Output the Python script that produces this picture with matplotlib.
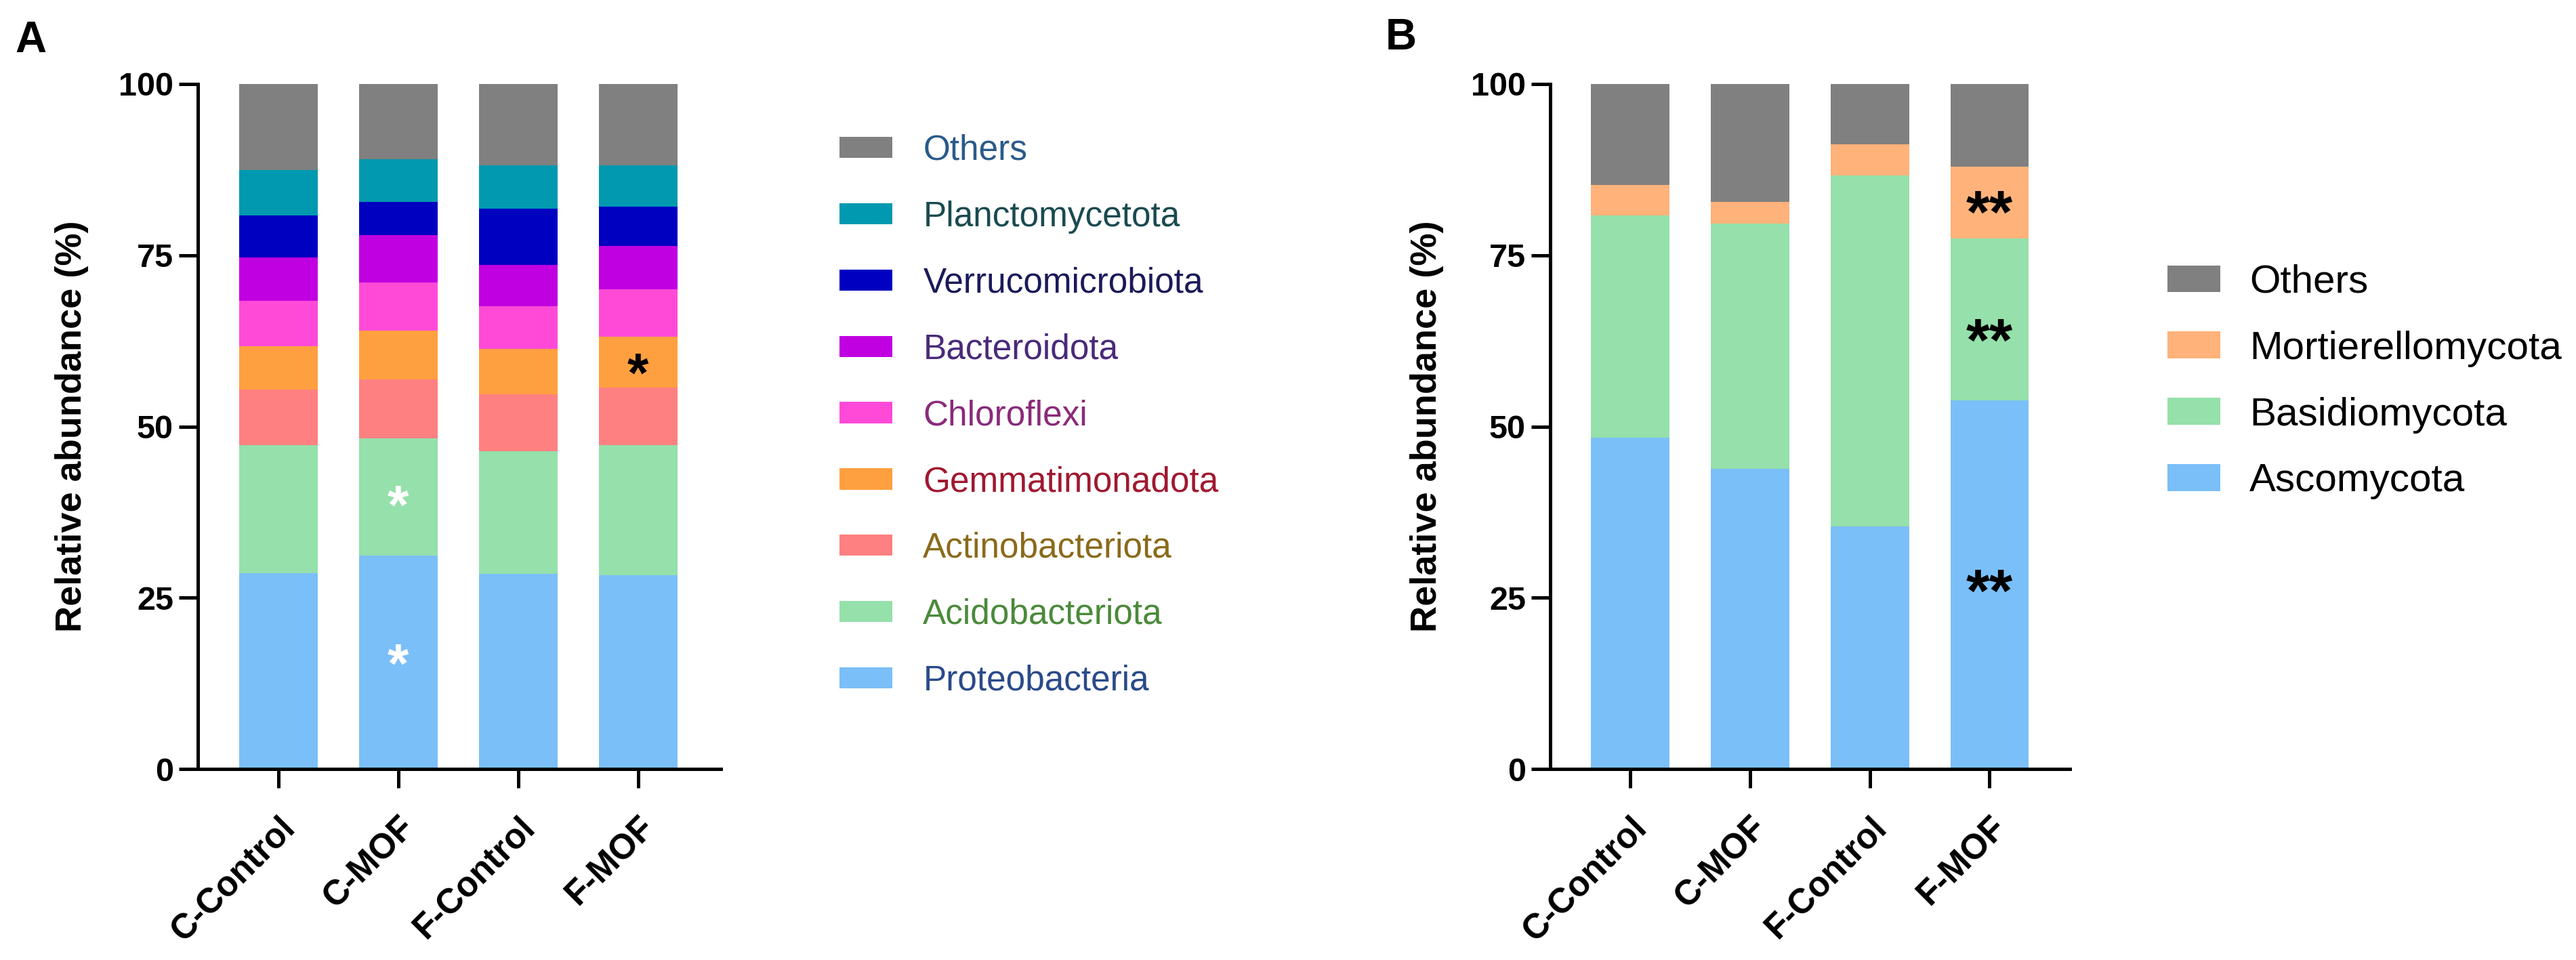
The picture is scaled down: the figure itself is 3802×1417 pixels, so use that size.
import matplotlib
matplotlib.use("Agg")
import matplotlib.pyplot as plt
from matplotlib.transforms import ScaledTranslation
import numpy as np

plt.rcParams["font.family"] = ["Liberation Sans", "DejaVu Sans"]

grupos = ["C-Control", "C-MOF", "F-Control", "F-MOF"]

# Panel A: bacterias (en %, de abajo hacia arriba)
bact_nombres = ["Proteobacteria", "Acidobacteriota", "Actinobacteriota", "Gemmatimonadota",
                "Chloroflexi", "Bacteroidota", "Verrucomicrobiota", "Planctomycetota", "Others"]
proteobacteria = [28.6, 31.2, 28.5, 28.3]
acidobacteriota = [18.7, 17.1, 17.9, 19.0]
actinobacteriota = [8.1, 8.6, 8.3, 8.4]
gemmatimonadota = [6.3, 7.1, 6.6, 7.4]
chloroflexi = [6.6, 7.0, 6.3, 6.9]
bacteroidota = [6.4, 6.9, 6.0, 6.4]
verrucomicrobiota = [6.1, 4.9, 8.2, 5.7]
planctomycetota = [6.6, 6.2, 6.3, 6.0]
otros_bact = [12.6, 11.0, 11.9, 11.9]

bact_colores = ["#7bbff8", "#95e0ab", "#ff8080", "#ffa040", "#ff4ad8",
                "#c000e0", "#0000c0", "#0099b0", "#808080"]
bact_texto = ["#2a4a8a", "#4a8a3a", "#8a6a1a", "#a01830", "#8a2a7a",
              "#4a2a7a", "#1a1a5a", "#1a4a50", "#2a5a8a"]

# Panel B: hongos
hong_nombres = ["Ascomycota", "Basidiomycota", "Mortierellomycota", "Others"]
ascomycota = [48.4, 43.8, 35.4, 53.8]
basidiomycota = [32.4, 35.8, 51.2, 23.6]
mortierellomycota = [4.5, 3.2, 4.6, 10.5]
otros_hong = [14.7, 17.2, 8.8, 12.1]

hong_colores = ["#7bbff8", "#95e0ab", "#ffb27a", "#808080"]

fig = plt.figure(figsize=(19.01, 7.085), dpi=200)
axA = fig.add_axes([0.0768, 0.199, 0.203, 0.7135])
axB = fig.add_axes([0.6018, 0.199, 0.2017, 0.7135])


def apilar(ax, series, colores, nombres):
    x = np.arange(len(grupos))
    base = np.zeros(len(grupos))
    for vals, c, n in zip(series, colores, nombres):
        ax.bar(x, vals, bottom=base, width=0.655, color=c, label=n, linewidth=0)
        base = base + np.array(vals)


def estilo(ax, xlim):
    ax.set_ylim(0, 100)
    ax.set_xlim(*xlim)
    ax.set_yticks([0, 25, 50, 75, 100])
    ax.set_xticks(np.arange(len(grupos)))
    ax.set_xticklabels(grupos, rotation=45, ha="right", va="top",
                       rotation_mode="anchor", fontsize=18.5, fontweight="bold")
    # corrimiento a la derecha como en Prism
    desplaza = ScaledTranslation(13 / 200, 0, fig.dpi_scale_trans)
    for lab in ax.get_xticklabels():
        lab.set_transform(lab.get_transform() + desplaza)
    for lab in ax.get_yticklabels():
        lab.set_fontsize(17.5)
        lab.set_fontweight("bold")
    ax.spines["top"].set_visible(False)
    ax.spines["right"].set_visible(False)
    ax.spines["left"].set_linewidth(1.8)
    ax.spines["bottom"].set_linewidth(1.8)
    ax.tick_params(axis="both", length=10, width=1.8)
    ax.tick_params(axis="y", pad=3)
    ax.tick_params(axis="x", pad=12)
    ax.set_ylabel("Relative abundance (%)", fontsize=19.5, fontweight="bold")


serA = [proteobacteria, acidobacteriota, actinobacteriota, gemmatimonadota,
        chloroflexi, bacteroidota, verrucomicrobiota, planctomycetota, otros_bact]
apilar(axA, serA, bact_colores, bact_nombres)
estilo(axA, (-0.672, 3.69))
axA.yaxis.set_label_coords(-0.209, 0.5)

serB = [ascomycota, basidiomycota, mortierellomycota, otros_hong]
apilar(axB, serB, hong_colores, hong_nombres)
estilo(axB, (-0.667, 3.67))
axB.yaxis.set_label_coords(-0.205, 0.5)

# asteriscos de significancia
axA.text(1, 37.9, "*", color="white", fontsize=29, fontweight="bold", ha="center", va="center")
axA.text(1, 14.8, "*", color="white", fontsize=29, fontweight="bold", ha="center", va="center")
axA.text(3, 57.2, "*", color="black", fontsize=29, fontweight="bold", ha="center", va="center")
for yv in [80.6, 61.9, 25.3]:
    axB.text(3, yv, "**", color="black", fontsize=32, fontweight="bold", ha="center", va="center")

# leyendas
hA, lA = axA.get_legend_handles_labels()
legA = fig.legend(hA[::-1], lA[::-1], loc="upper left", bbox_to_anchor=(1239 / 3802, 1 - 198 / 1417),
                  frameon=False, fontsize=18.5, handlelength=1.52, handleheight=0.56,
                  handletextpad=0.88, labelspacing=0.95, borderpad=0, borderaxespad=0)
for t, c in zip(legA.get_texts(), bact_texto[::-1]):
    t.set_color(c)

hB, lB = axB.get_legend_handles_labels()
legB = fig.legend(hB[::-1], lB[::-1], loc="upper left", bbox_to_anchor=(3199 / 3802, 1 - 390 / 1417),
                  frameon=False, fontsize=21, handlelength=1.34, handleheight=0.67,
                  handletextpad=0.74, labelspacing=0.75, borderpad=0, borderaxespad=0)

fig.text(22 / 3802, 1 - 30 / 1417, "A", fontsize=23, fontweight="bold", va="top", ha="left")
fig.text(2045 / 3802, 1 - 26 / 1417, "B", fontsize=23, fontweight="bold", va="top", ha="left")

fig.savefig("out.png", dpi=200)
